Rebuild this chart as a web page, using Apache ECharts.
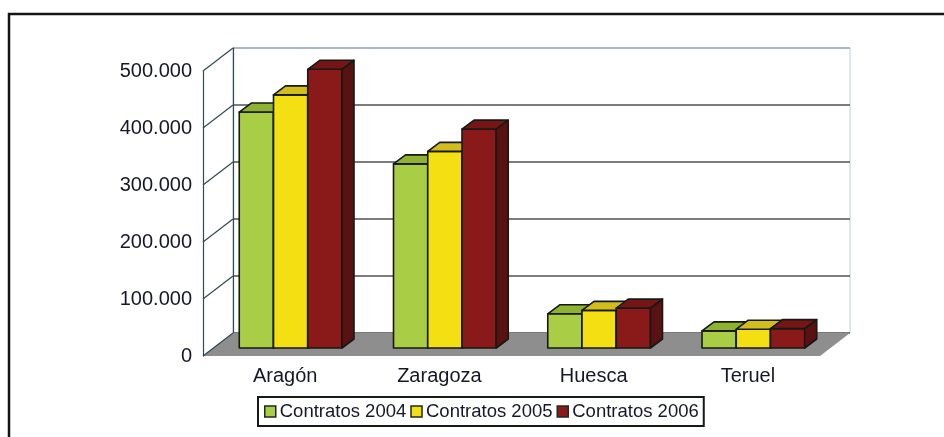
<!DOCTYPE html>
<html>
<head>
<meta charset="utf-8">
<title>Contratos</title>
<script src="https://cdn.jsdelivr.net/npm/echarts@6/dist/echarts.min.js"></script>
<style>
	html, body { margin: 0; padding: 0; background: #fff; }
	#chart { width: 944px; height: 437px; }
</style>
</head>
<body>
<div id="chart"></div>
<script type="text/javascript">
	// datos
	var categories = ['Aragón', 'Zaragoza', 'Huesca', 'Teruel'];
	var seriesNames = ['Contratos 2004', 'Contratos 2005', 'Contratos 2006'];
	var contratos2004 = [414000, 323000, 60000, 30000];
	var contratos2005 = [444000, 345000, 66000, 33000];
	var contratos2006 = [489000, 384000, 70000, 34000];
	var yTicks = [0, 100000, 200000, 300000, 400000, 500000];

	// colores: frente, tapa, lateral
	var faces = [
		['#a9cd45', '#8fb232', '#6f8c22'],
		['#f3df12', '#d2bc1e', '#a89410'],
		['#8a1a1a', '#761515', '#5a1111']
	];

	// profundidad del "3D" (de la pared frontal a la del fondo)
	var WALL_DX = 30, WALL_DY = -23;

	var chart = echarts.init(document.getElementById('chart'));

	function fmt(v) {
		if (v === 0) return '0';
		var s = String(v);
		return s.slice(0, s.length - 3) + '.' + s.slice(s.length - 3);
	}

	function barRenderer(k) {
		return function (params, api) {
			var cat = api.value(0), v = api.value(1);
			var top = api.coord([cat, v]);
			var base = api.coord([cat, 0]);
			var catW = api.size([1, 0])[0];
			var bw = catW * 0.222;
			var fx = 10.5, fy = -8;     // cara frontal de la barra
			var bdx = 12, bdy = -9;     // fondo de la barra
			var x0 = top[0] + (k - 1.5) * bw + fx;
			var x1 = x0 + bw;
			var yT = top[1] + fy;
			var yB = base[1] + fy;
			var st = { stroke: '#151a14', lineWidth: 1.6, lineJoin: 'round' };
			return {
				type: 'group',
				children: [
					{ type: 'rect', shape: { x: x0, y: yT, width: bw, height: yB - yT },
						style: Object.assign({ fill: faces[k][0] }, st) },
					{ type: 'polygon', shape: { points: [[x0, yT], [x1, yT], [x1 + bdx, yT + bdy], [x0 + bdx, yT + bdy]] },
						style: Object.assign({ fill: faces[k][1] }, st) },
					{ type: 'polygon', shape: { points: [[x1, yT], [x1 + bdx, yT + bdy], [x1 + bdx, yB + bdy], [x1, yB]] },
						style: Object.assign({ fill: faces[k][2] }, st) }
				]
			};
		};
	}

	function wallRenderer(params, api) {
		var catW = api.size([1, 0])[0];
		var left = api.coord([0, 0])[0] - catW / 2;
		var right = api.coord([categories.length - 1, 0])[0] + catW / 2;
		var y0 = api.coord([0, 0])[1];
		var children = [{
			type: 'polygon',
			shape: { points: [[left, y0], [right, y0], [right + WALL_DX, y0 + WALL_DY], [left + WALL_DX, y0 + WALL_DY]] },
			style: { fill: '#8e8e8e' }
		}];
		for (var i = 0; i < yTicks.length; i++) {
			var y = api.coord([0, yTicks[i]])[1];
			children.push({
				type: 'line',
				shape: { x1: left, y1: y, x2: left + WALL_DX, y2: y + WALL_DY },
				style: { stroke: '#2f4c52', lineWidth: 1.2 }
			});
		}
		return { type: 'group', children: children };
	}

	function pairs(arr) {
		return arr.map(function (v, i) { return [i, v]; });
	}

	var allValues = [contratos2004, contratos2005, contratos2006];
	var series = [{
		type: 'custom',
		name: 'paredes',
		xAxisIndex: 0,
		yAxisIndex: 0,
		renderItem: wallRenderer,
		data: [[0, 0]],
		silent: true,
		z: 1
	}];
	for (var k = 0; k < 3; k++) {
		series.push({
			type: 'custom',
			name: seriesNames[k],
			xAxisIndex: 0,
			yAxisIndex: 0,
			renderItem: barRenderer(k),
			itemStyle: { color: faces[k][0] },
			data: pairs(allValues[k]),
			z: 3 + k
		});
	}

	var option = {
		animation: false,
		backgroundColor: '#fff',
		textStyle: { fontFamily: 'Liberation Sans, Arial, sans-serif' },
		graphic: [{
			type: 'rect',
			shape: { x: 9, y: 14, width: 1000, height: 500 },
			style: { fill: 'none', stroke: '#141414', lineWidth: 2.5 },
			z: -10
		}],
		grid: [
			// plano frontal
			{ left: 203, right: 124, top: 71, bottom: 81 },
			// pared del fondo
			{ left: 233, right: 94, top: 48, bottom: 104, show: true,
				borderColor: '#c3ccd0', borderWidth: 1, backgroundColor: '#fff' }
		],
		xAxis: [{
			type: 'category',
			gridIndex: 0,
			data: categories,
			axisLine: { show: false },
			axisTick: { show: false },
			axisLabel: { color: '#16182a', fontSize: 20, margin: 10, padding: [0, 0, 0, 10] }
		}, {
			type: 'category',
			gridIndex: 1,
			data: categories,
			show: false
		}],
		yAxis: [{
			type: 'value',
			gridIndex: 0,
			min: 0,
			max: 500000,
			interval: 100000,
			axisLine: { show: true, lineStyle: { color: '#2f4c52', width: 1.2 } },
			axisTick: { show: false },
			splitLine: { show: false },
			axisLabel: { color: '#16182a', fontSize: 20, margin: 11, formatter: fmt }
		}, {
			type: 'value',
			gridIndex: 1,
			min: 0,
			max: 500000,
			interval: 100000,
			axisLine: { show: true, lineStyle: { color: '#2f4c52', width: 1.2 } },
			axisTick: { show: false },
			axisLabel: { show: false },
			splitLine: { show: true, lineStyle: {
				color: ['#555', '#4d5256', '#4d5256', '#4d5256', '#4d5256', '#94aab6'], width: 1.5 } }
		}],
		legend: {
			data: seriesNames,
			left: 258,
			top: 397,
			orient: 'horizontal',
			icon: 'rect',
			itemWidth: 11,
			itemHeight: 11,
			itemGap: 4,
			padding: [5, 5, 5, 6],
			borderColor: '#141a16',
			borderWidth: 2,
			backgroundColor: '#fff',
			selectedMode: false,
			itemStyle: { borderColor: '#1c2b22', borderWidth: 1.5 },
			textStyle: { color: '#16182a', fontSize: 18.5, padding: [0, 0, 0, -1] }
		},
		series: series
	};

	chart.setOption(option);
</script>
</body>
</html>
